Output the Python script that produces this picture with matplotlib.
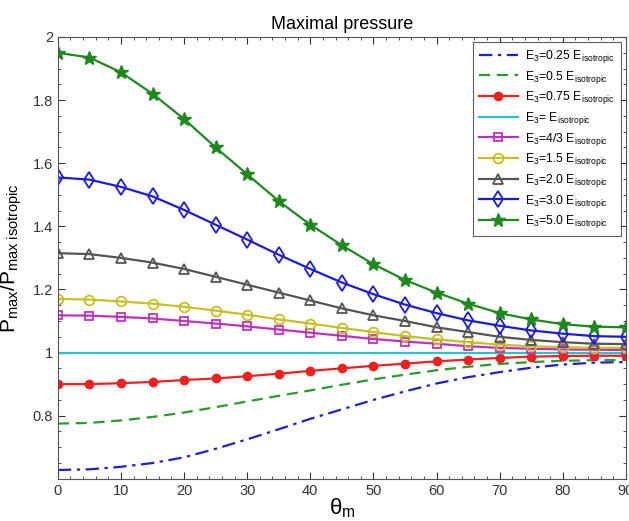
import matplotlib
matplotlib.use("Agg")
import matplotlib.pyplot as plt
from matplotlib.ticker import MultipleLocator

plt.rcParams['font.family'] = ['Liberation Sans', 'DejaVu Sans']
plt.rcParams['mathtext.fontset'] = 'custom'
plt.rcParams['mathtext.rm'] = 'Liberation Sans'
plt.rcParams['mathtext.it'] = 'Liberation Sans:italic'

theta = [0, 5, 10, 15, 20, 25, 30, 35, 40, 45, 50, 55, 60, 65, 70, 75, 80, 85, 90]

e025 = [0.628, 0.630, 0.638, 0.650, 0.668, 0.695, 0.725, 0.757, 0.790, 0.820, 0.850, 0.877, 0.902, 0.922, 0.938, 0.952, 0.962, 0.968, 0.970]
e05 = [0.775, 0.777, 0.785, 0.796, 0.810, 0.827, 0.845, 0.863, 0.880, 0.898, 0.915, 0.930, 0.944, 0.955, 0.964, 0.970, 0.974, 0.976, 0.977]
e075 = [0.900, 0.900, 0.903, 0.907, 0.913, 0.918, 0.925, 0.933, 0.942, 0.950, 0.958, 0.965, 0.972, 0.978, 0.983, 0.987, 0.989, 0.990, 0.990]
e1 = [1.0] * 19
e43 = [1.118, 1.117, 1.113, 1.108, 1.100, 1.092, 1.083, 1.073, 1.063, 1.053, 1.043, 1.035, 1.028, 1.020, 1.015, 1.012, 1.010, 1.009, 1.008]
e15 = [1.170, 1.168, 1.162, 1.155, 1.145, 1.133, 1.120, 1.105, 1.092, 1.078, 1.065, 1.052, 1.042, 1.033, 1.025, 1.020, 1.017, 1.015, 1.015]
e2 = [1.315, 1.312, 1.300, 1.285, 1.265, 1.240, 1.215, 1.190, 1.165, 1.140, 1.118, 1.100, 1.080, 1.065, 1.050, 1.040, 1.033, 1.028, 1.027]
e3 = [1.555, 1.548, 1.525, 1.495, 1.452, 1.405, 1.358, 1.310, 1.265, 1.222, 1.185, 1.152, 1.125, 1.102, 1.085, 1.070, 1.060, 1.052, 1.050]
e5 = [1.950, 1.935, 1.888, 1.820, 1.740, 1.650, 1.565, 1.480, 1.405, 1.340, 1.280, 1.230, 1.190, 1.155, 1.125, 1.105, 1.090, 1.082, 1.080]

labels = ['0.25 ', '0.5 ', '0.75 ', ' ', '4/3 ', '1.5 ', '2.0 ', '3.0 ', '5.0 ']

fig = plt.figure(figsize=(6.29, 5.21), dpi=100)
ax = fig.add_axes([0.092, 0.081, 0.903, 0.848])

def lab(s):
    return r'E$_3$=' + s + r'E$_{\rm isotropic}$'

lw = 1.6
ax.plot(theta, e025, color='#1f1fd0', ls=(0, (6, 2.5, 1.5, 2.5)), lw=lw, label=lab(labels[0]))
ax.plot(theta, e05, color='#2a9a2a', ls=(0, (5, 3)), lw=lw, label=lab(labels[1]))
ax.plot(theta, e075, color='#ee2020', marker='o', ms=6, lw=lw, label=lab(labels[2]))
ax.plot(theta, e1, color='#22c8c8', lw=lw, label=lab(labels[3]))
ax.plot(theta, e43, color='#c030c0', marker='s', ms=6, mfc='none', mew=1.3, lw=lw, label=lab(labels[4]))
ax.plot(theta, e15, color='#c8c020', marker='o', ms=7, mfc='none', mew=1.3, lw=lw, label=lab(labels[5]))
ax.plot(theta, e2, color='#555555', marker='^', ms=7, mfc='none', mew=1.3, lw=lw, label=lab(labels[6]))
ax.plot(theta, e3, color='#1a1ae0', marker='d', ms=8, mfc='none', mew=1.3, lw=lw, label=lab(labels[7]))
ax.plot(theta, e5, color='#1e8a1e', marker='*', ms=10, lw=lw, label=lab(labels[8]))

ax.set_xlim(0, 90)
ax.set_ylim(0.6, 2.0)
ax.set_xticks(range(0, 91, 10))
ax.set_yticks([0.8, 1.0, 1.2, 1.4, 1.6, 1.8, 2.0])
ax.set_yticklabels(['0.8', '1', '1.2', '1.4', '1.6', '1.8', '2'])
ax.xaxis.set_minor_locator(MultipleLocator(2))
ax.yaxis.set_minor_locator(MultipleLocator(0.05))
ax.tick_params(which='both', direction='in', top=True, right=True, labelsize=10.5, colors='#333333')
ax.tick_params(which='major', length=5)
ax.tick_params(which='minor', length=2.5)
for s in ax.spines.values():
    s.set_color('#555555')

ax.set_title('Maximal pressure', fontsize=13)
ax.set_xlabel('θ$_{\\rm m}$', fontsize=16, labelpad=-1)
ax.set_ylabel(r'P$_{\rm max}$/P$_{\rm max\ isotropic}$', fontsize=15, labelpad=6)

leg = ax.legend(loc='upper right', fontsize=8.8, frameon=True, fancybox=False,
                edgecolor='#333333', handlelength=3.2, labelspacing=0.3,
                borderpad=0.5, handletextpad=0.6, borderaxespad=0.4)
leg.get_frame().set_linewidth(0.8)

fig.savefig('out.png', dpi=100)
